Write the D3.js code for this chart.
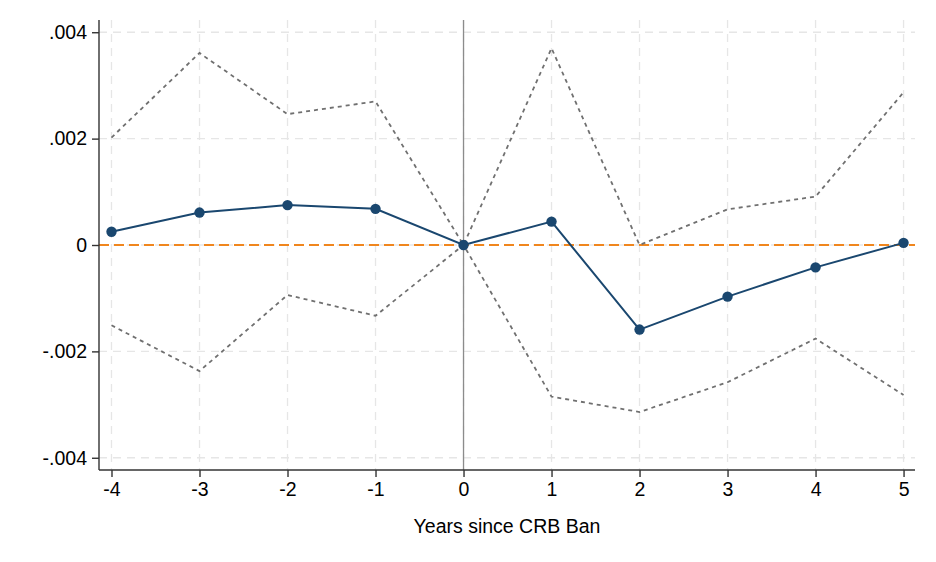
<!DOCTYPE html>
<html>
<head>
<meta charset="utf-8">
<script src="https://cdn.jsdelivr.net/npm/d3@7"></script>
<style>
  body { margin: 0; background: #fff; }
  text { font-family: "Liberation Sans", Arial, sans-serif; }
</style>
</head>
<body>
<svg id="chart" width="936" height="562"></svg>
<script>
// event-study data
var years = [-4, -3, -2, -1, 0, 1, 2, 3, 4, 5];
var estimate = [0.00025, 0.00061, 0.00075, 0.00068, 0, 0.00044, -0.00159, -0.00097, -0.00042, 0.00004];
var upperCI = [0.00202, 0.00361, 0.00246, 0.00270, 0, 0.00370, 0.00000, 0.00067, 0.00091, 0.00287];
var lowerCI = [-0.00151, -0.00237, -0.00094, -0.00133, 0, -0.00285, -0.00314, -0.00258, -0.00176, -0.00282];
var yTicks = [-0.004, -0.002, 0, 0.002, 0.004];
var yTickLabels = ["-.004", "-.002", "0", ".002", ".004"];

var svg = d3.select("#chart");
var margin = { top: 20, right: 21, bottom: 92, left: 99 };
var width = +svg.attr("width") - margin.left - margin.right;
var height = +svg.attr("height") - margin.top - margin.bottom;
var g = svg.append("g").attr("transform", "translate(" + margin.left + "," + margin.top + ")");

var x = d3.scaleLinear().domain([-4.142, 5.13]).range([0, width]);
var y = d3.scaleLinear().domain([-0.00423, 0.00423]).range([height, 0]);

// grid
g.append("g").selectAll("line")
    .data(yTicks)
    .enter().append("line")
    .attr("x1", 0).attr("x2", width)
    .attr("y1", function (d) { return y(d); })
    .attr("y2", function (d) { return y(d); })
    .attr("stroke", "#e6e6e6").attr("stroke-width", 1.3)
    .attr("stroke-dasharray", "8,6");
g.append("g").selectAll("line")
    .data(years)
    .enter().append("line")
    .attr("y1", 0).attr("y2", height)
    .attr("x1", function (d) { return x(d); })
    .attr("x2", function (d) { return x(d); })
    .attr("stroke", "#e6e6e6").attr("stroke-width", 1.3)
    .attr("stroke-dasharray", "8,6");

// reference lines
g.append("line")
    .attr("x1", x(0)).attr("x2", x(0))
    .attr("y1", 0).attr("y2", height)
    .attr("stroke", "#8c8c8c").attr("stroke-width", 1.3);
g.append("line")
    .attr("x1", 0).attr("x2", width)
    .attr("y1", y(0)).attr("y2", y(0))
    .attr("stroke", "#f0861e").attr("stroke-width", 2)
    .attr("stroke-dasharray", "10,5");

var line = function (vals) {
    return d3.line()
        .x(function (d, i) { return x(years[i]); })
        .y(function (d) { return y(d); })(vals);
};

// confidence bands
[upperCI, lowerCI].forEach(function (ci) {
    g.append("path")
        .attr("d", line(ci))
        .attr("fill", "none")
        .attr("stroke", "#707070").attr("stroke-width", 1.8)
        .attr("stroke-dasharray", "4,4");
});

// point estimates
g.append("path")
    .attr("d", line(estimate))
    .attr("fill", "none")
    .attr("stroke", "#1a476f").attr("stroke-width", 2);
g.append("g").selectAll("circle")
    .data(estimate)
    .enter().append("circle")
    .attr("cx", function (d, i) { return x(years[i]); })
    .attr("cy", function (d) { return y(d); })
    .attr("r", 5.2)
    .attr("fill", "#1a476f");

// axes
var yAxis = g.append("g")
    .call(d3.axisLeft(y).tickValues(yTicks).tickSize(7).tickPadding(5)
        .tickFormat(function (d, i) { return yTickLabels[i]; }));
var xAxis = g.append("g")
    .attr("transform", "translate(0," + height + ")")
    .call(d3.axisBottom(x).tickValues(years).tickSize(7).tickPadding(5).tickFormat(d3.format("d")));
[xAxis, yAxis].forEach(function (a) {
    a.select(".domain").attr("stroke", "#333").attr("stroke-width", 1.4)
        .attr("d", a === xAxis ? "M0,0H" + width : "M0,0V" + height);
    a.selectAll(".tick line").attr("stroke", "#333").attr("stroke-width", 1.4);
    a.selectAll(".tick text").attr("font-size", 19.5).attr("fill", "#000")
        .style("font-family", "'Liberation Sans', Arial, sans-serif");
});
xAxis.selectAll(".tick text").text(function (d) { return d < 0 ? "-" + Math.abs(d) : d; });

svg.append("text")
    .attr("x", margin.left + width / 2)
    .attr("y", 533)
    .attr("text-anchor", "middle")
    .attr("font-size", 19.5)
    .attr("fill", "#000")
    .text("Years since CRB Ban");
</script>
</body>
</html>
